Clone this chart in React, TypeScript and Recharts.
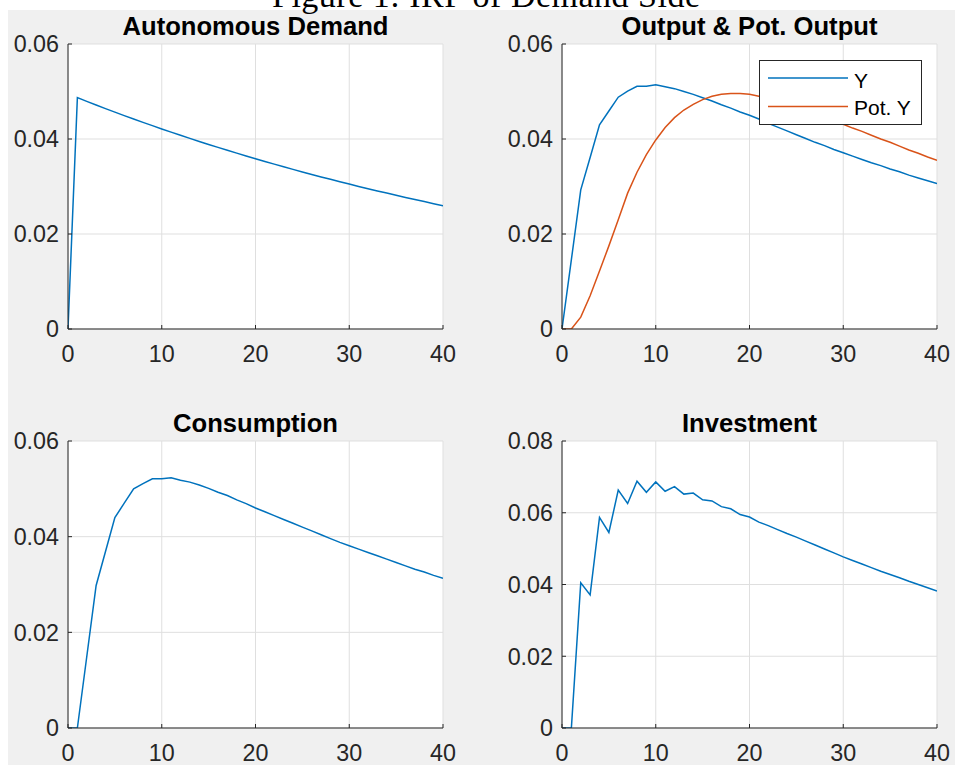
import React from 'react';
import { LineChart, Line, XAxis, YAxis, CartesianGrid, Legend } from 'recharts';

const periods = [0, 1, 2, 3, 4, 5, 6, 7, 8, 9, 10, 11, 12, 13, 14, 15, 16, 17, 18, 19, 20, 21, 22, 23, 24, 25, 26, 27, 28, 29, 30, 31, 32, 33, 34, 35, 36, 37, 38, 39, 40];
const xTicks = [0, 10, 20, 30, 40];
const yTicks06 = [0, 0.02, 0.04, 0.06];
const yTicks08 = [0, 0.02, 0.04, 0.06, 0.08];

const autonomousDemand = [0, 0.0487, 0.04792, 0.04715, 0.0464, 0.04566, 0.04493, 0.04421, 0.0435, 0.04281, 0.04212, 0.04145, 0.04078, 0.04013, 0.03949, 0.03886, 0.03824, 0.03762, 0.03702, 0.03643, 0.03585, 0.03527, 0.03471, 0.03415, 0.03361, 0.03307, 0.03254, 0.03202, 0.03151, 0.03101, 0.03051, 0.03002, 0.02954, 0.02907, 0.02861, 0.02815, 0.0277, 0.02725, 0.02682, 0.02639, 0.02597];

const outputY = [0, 0.0146, 0.0293, 0.0361, 0.043, 0.0459, 0.0488, 0.0501, 0.0511, 0.0511, 0.0514, 0.051, 0.0506, 0.05, 0.0494, 0.0487, 0.048, 0.0472, 0.0465, 0.0457, 0.045, 0.0442, 0.0433, 0.0425, 0.0417, 0.0409, 0.0401, 0.0393, 0.0386, 0.0378, 0.0371, 0.0364, 0.0357, 0.035, 0.0344, 0.0337, 0.0331, 0.0324, 0.0318, 0.0312, 0.0306];

const potentialY = [0, 0, 0.0025, 0.007, 0.0122, 0.0175, 0.023, 0.0286, 0.033, 0.0367, 0.0398, 0.0424, 0.0445, 0.0461, 0.0473, 0.0483, 0.049, 0.0494, 0.0496, 0.0496, 0.0494, 0.049, 0.0486, 0.048, 0.0474, 0.0468, 0.0461, 0.0454, 0.0446, 0.0438, 0.0431, 0.0423, 0.0416, 0.0408, 0.04, 0.0393, 0.0385, 0.0377, 0.037, 0.0362, 0.0355];

const consumption = [0, 0, 0.0149, 0.0298, 0.0369, 0.044, 0.047, 0.05, 0.0511, 0.0521, 0.0521, 0.0523, 0.0518, 0.0514, 0.0508, 0.0501, 0.0493, 0.0486, 0.0477, 0.0469, 0.046, 0.0452, 0.0444, 0.0436, 0.0428, 0.042, 0.0412, 0.0404, 0.0396, 0.0388, 0.0381, 0.0374, 0.0367, 0.036, 0.0353, 0.0346, 0.0339, 0.0332, 0.0326, 0.0319, 0.0313];

const investment = [0, 0, 0.0405, 0.0371, 0.0587, 0.0545, 0.0663, 0.0626, 0.0688, 0.0657, 0.0686, 0.066, 0.0673, 0.0652, 0.0655, 0.0636, 0.0633, 0.0617, 0.0611, 0.0595, 0.0588, 0.0574, 0.0564, 0.0553, 0.0542, 0.0532, 0.0521, 0.051, 0.0499, 0.0488, 0.0477, 0.0467, 0.0457, 0.0447, 0.0437, 0.0428, 0.0419, 0.0409, 0.04, 0.0391, 0.0382];

const outputLegendOrder = ['Y', 'Pot. Y'];

const BLUE = '#0072BD';
const ORANGE = '#D95319';
const AXIS = '#262626';
const FONT = '"Liberation Sans", Arial, Helvetica, sans-serif';

type Series = { key: string; name: string; values: number[]; color: string };

const fmt = (v: number) => (v === 0 ? '0' : v.toFixed(2));

function LegendBox(props: any) {
  const payload = [...(props.payload || [])].sort(
    (a: any, b: any) => outputLegendOrder.indexOf(a.value) - outputLegendOrder.indexOf(b.value)
  );
  return (
    <svg width={163} height={65} style={{ display: 'block' }}>
      <rect x={0.5} y={0.5} width={162} height={64} fill="#ffffff" stroke={AXIS} strokeWidth={1} />
      {payload.map((p: any, i: number) => (
        <g key={i}>
          <line x1={9} x2={89} y1={18 + 28.5 * i} y2={18 + 28.5 * i} stroke={p.color} strokeWidth={1.5} />
          <text x={95} y={27.5 + 27.5 * i} fontFamily={FONT} fontSize={21} fill="#000">
            {p.value}
          </text>
        </g>
      ))}
    </svg>
  );
}

const M_TOP = 30;
const M_RIGHT = 30;

function Panel(props: {
  left: number;
  top: number;
  plotH: number;
  xAxisH: number;
  yMax: number;
  yTicks: number[];
  series: Series[];
  showLegend?: boolean;
}) {
  const { left, top, plotH, xAxisH, yMax, yTicks, series, showLegend } = props;
  const data = periods.map((p, i) => {
    const row: any = { t: p };
    series.forEach((s) => {
      row[s.key] = s.values[i];
    });
    return row;
  });
  const W = 68 + 375 + M_RIGHT;
  const H = M_TOP + plotH + xAxisH;
  const tickStyle = { fill: AXIS, fontSize: 23.3, fontFamily: FONT };
  return (
    <div style={{ position: 'absolute', left, top: top - M_TOP, width: W, height: H }}>
      <LineChart width={W} height={H} data={data} margin={{ top: M_TOP, right: M_RIGHT, bottom: 0, left: 8 }}>
        <CartesianGrid stroke="#dfdfdf" fill="#ffffff" fillOpacity={1} />
        <XAxis
          dataKey="t"
          type="number"
          domain={[0, 40]}
          ticks={xTicks}
          interval={0}
          height={xAxisH}
          tickSize={-4}
          tickMargin={20}
          stroke={AXIS}
          tick={tickStyle}
          allowDataOverflow
        />
        <XAxis
          xAxisId="top"
          orientation="top"
          dataKey="t"
          type="number"
          domain={[0, 40]}
          ticks={xTicks}
          interval={0}
          height={0}
          tickSize={-4}
          tick={false}
          stroke={AXIS}
          allowDataOverflow
        />
        <YAxis
          type="number"
          domain={[0, yMax]}
          ticks={yTicks}
          interval={0}
          width={60}
          tickSize={-4}
          tickMargin={13}
          stroke={AXIS}
          tick={tickStyle}
          tickFormatter={fmt}
          allowDataOverflow
        />
        <YAxis
          yAxisId="right"
          orientation="right"
          type="number"
          domain={[0, yMax]}
          ticks={yTicks}
          interval={0}
          width={0}
          tickSize={-4}
          tick={false}
          stroke={AXIS}
          allowDataOverflow
        />
        {series.map((s) => (
          <Line
            key={s.key}
            dataKey={s.key}
            name={s.name}
            type="linear"
            stroke={s.color}
            strokeWidth={1.5}
            dot={false}
            activeDot={false}
            isAnimationActive={false}
          />
        ))}
        {showLegend ? (
          <Legend
            layout="vertical"
            align="center"
            verticalAlign="middle"
            content={LegendBox}
            wrapperStyle={{ position: 'absolute', left: 759 - left, top: 60 - (top - M_TOP), width: 163, height: 65 }}
          />
        ) : null}
      </LineChart>
    </div>
  );
}

const titleStyle = { fontFamily: FONT, fontSize: 25.6, fontWeight: 'bold' as const, fill: '#000' };

export default function App() {
  return (
    <div>
      <style>{'html,body{overflow:hidden;}'}</style>
      <div style={{ position: 'absolute', left: 8, top: 10, width: 947, height: 755, background: '#f0f0f0' }} />
      <Panel
        left={0}
        top={44}
        plotH={285}
        xAxisH={40}
        yMax={0.06}
        yTicks={yTicks06}
        series={[{ key: 'ad', name: 'Autonomous Demand', values: autonomousDemand, color: BLUE }]}
      />
      <Panel
        left={494}
        top={44}
        plotH={285}
        xAxisH={40}
        yMax={0.06}
        yTicks={yTicks06}
        showLegend
        series={[
          { key: 'y', name: 'Y', values: outputY, color: BLUE },
          { key: 'py', name: 'Pot. Y', values: potentialY, color: ORANGE },
        ]}
      />
      <Panel
        left={0}
        top={441}
        plotH={287}
        xAxisH={40}
        yMax={0.06}
        yTicks={yTicks06}
        series={[{ key: 'c', name: 'Consumption', values: consumption, color: BLUE }]}
      />
      <Panel
        left={494}
        top={441}
        plotH={287}
        xAxisH={40}
        yMax={0.08}
        yTicks={yTicks08}
        series={[{ key: 'i', name: 'Investment', values: investment, color: BLUE }]}
      />
      <svg
        width={955}
        height={765}
        style={{ position: 'absolute', left: 0, top: 0, pointerEvents: 'none' }}
      >
        <text x={486} y={7} textAnchor="middle" fontFamily='"Liberation Serif", "DejaVu Serif", serif' fontSize={34} textLength={428} fill="#000">
          Figure 1: IRF of Demand Side
        </text>
        <text x={255.5} y={35} textAnchor="middle" {...titleStyle}>Autonomous Demand</text>
        <text x={749.5} y={35} textAnchor="middle" {...titleStyle}>Output &amp; Pot. Output</text>
        <text x={255.5} y={431.5} textAnchor="middle" {...titleStyle}>Consumption</text>
        <text x={749.5} y={431.5} textAnchor="middle" {...titleStyle}>Investment</text>
      </svg>
    </div>
  );
}
